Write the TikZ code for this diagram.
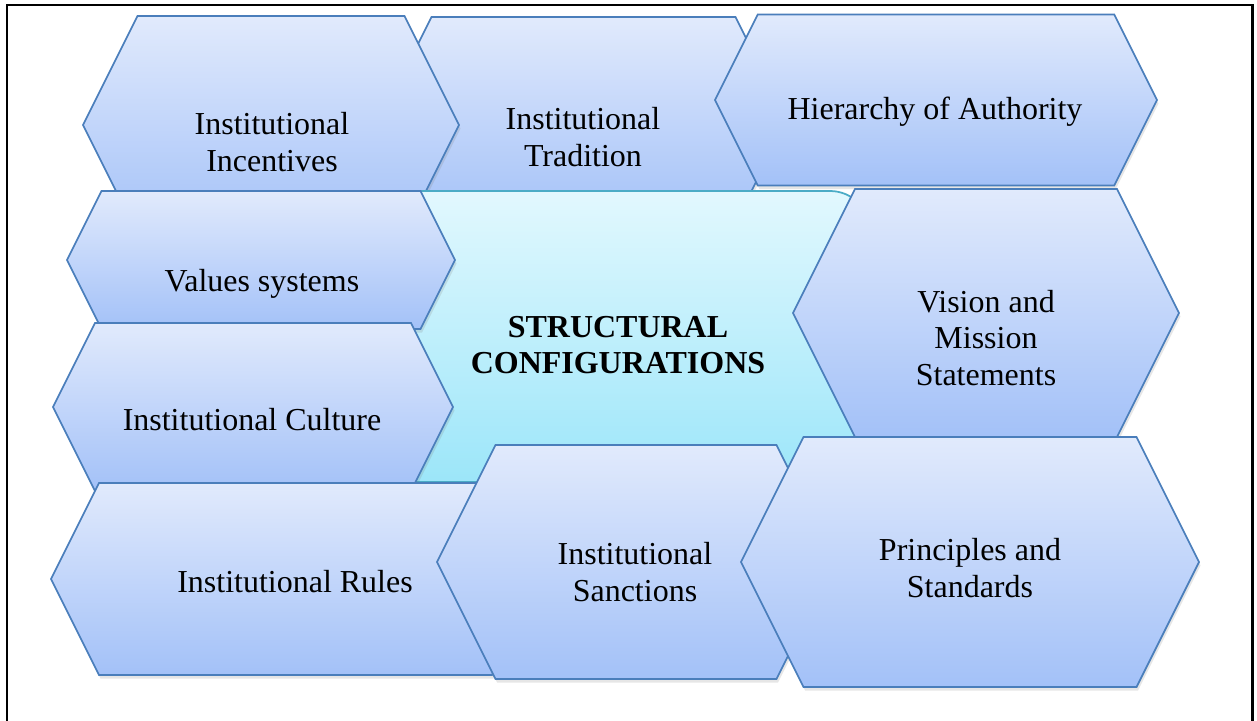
\documentclass[tikz,border=0pt]{standalone}
\usepackage{fontspec}
\setmainfont{Liberation Serif}
\usetikzlibrary{shadows}
\definecolor{hextop}{HTML}{E1EAFC}
\definecolor{hexbot}{HTML}{A3C1F8}
\definecolor{hexline}{HTML}{4A7EBB}
\definecolor{coretop}{HTML}{E2F8FE}
\definecolor{corebot}{HTML}{9CE6F9}
\definecolor{coreline}{HTML}{4BACC6}
\tikzset{
  hexcell/.style={draw=hexline, line width=0.035cm, top color=hextop, bottom color=hexbot,
    drop shadow={shadow xshift=0.03cm, shadow yshift=-0.07cm, opacity=0.2}},
  corecell/.style={draw=coreline, line width=0.035cm, top color=coretop, bottom color=corebot,
    rounded corners=0.8cm},
  hexlabel/.style={align=center, inner sep=0pt, font=\fontsize{18.2}{20.8}\selectfont},
  corelabel/.style={hexlabel, font=\fontsize{18.2}{20.8}\selectfont\bfseries}
}
% #1 name, #2 left tip x, #3 right tip x, #4 tip y, #5 half height, #6/#7 label position, #8 label
\newcommand{\hexbox}[8]{
  \draw [hexcell] (#2,#4) -- ({#2+0.5*#5},{#4-#5}) -- ({#3-0.5*#5},{#4-#5})
    -- (#3,#4) -- ({#3-0.5*#5},{#4+#5}) -- ({#2+0.5*#5},{#4+#5}) -- cycle;
  \node [hexlabel] (#1) at (#6,#7) {#8};
}
\begin{document}
\begin{tikzpicture}[x=0.02cm, y=-0.02cm]
  \useasboundingbox (0,0) rectangle (1257,720);
  \draw [line width=0.06cm] (7,5) rectangle (1252,726);
  % top row
  \hexbox{tradition}{380}{787}{120}{103}{583}{137}{Institutional\\Tradition}
  \hexbox{incentives}{83}{459}{125}{109}{272}{142}{Institutional\\Incentives}
  \hexbox{hierarchy}{715}{1157}{100}{85.5}{935}{112}{Hierarchy of Authority}
  % centre
  \draw [corecell] (300,191) rectangle (870,482);
  \node [corelabel] (core) at (618,345) {STRUCTURAL\\CONFIGURATIONS};
  % left column
  \hexbox{values}{67}{455}{260}{69}{262}{284}{Values systems}
  \hexbox{culture}{53}{453}{407}{84}{252}{420}{Institutional Culture}
  \hexbox{rules}{51}{540}{579}{96}{295}{582}{Institutional Rules}
  % right and bottom
  \hexbox{vision}{793}{1179}{313}{124}{986}{338}{Vision and\\Mission\\Statements}
  \hexbox{sanctions}{437}{835}{562}{117}{635}{572}{Institutional\\Sanctions}
  \hexbox{principles}{741}{1199}{562}{125}{970}{568}{Principles and\\Standards}
\end{tikzpicture}
\end{document}
